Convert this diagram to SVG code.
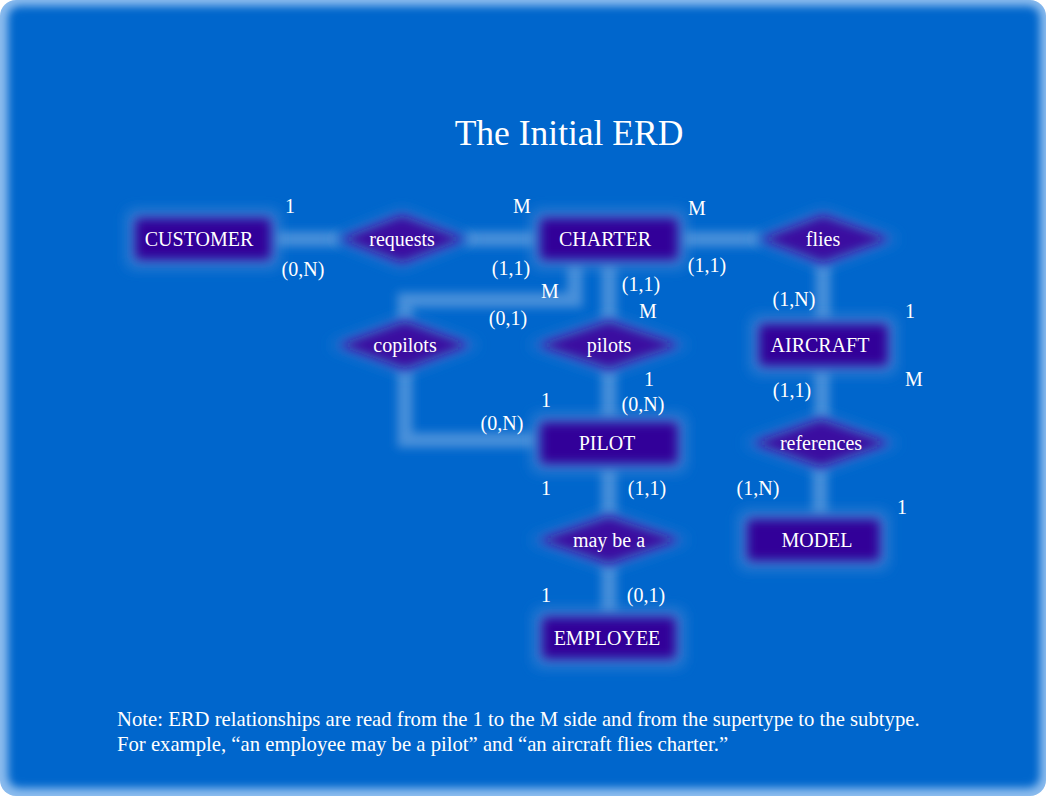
<svg xmlns="http://www.w3.org/2000/svg" width="1062" height="797" viewBox="0 0 1062 797">
<defs>
<filter id="nb" filterUnits="userSpaceOnUse" x="0" y="0" width="1062" height="797"><feGaussianBlur stdDeviation="5.5"/></filter>
<filter id="hb" filterUnits="userSpaceOnUse" x="0" y="0" width="1062" height="797"><feGaussianBlur stdDeviation="7"/></filter>
<filter id="cb" filterUnits="userSpaceOnUse" x="0" y="0" width="1062" height="797"><feGaussianBlur stdDeviation="5"/></filter>
<filter id="fb" filterUnits="userSpaceOnUse" x="-20" y="-20" width="1100" height="840"><feGaussianBlur stdDeviation="4"/></filter>
<clipPath id="fc"><rect x="0" y="0" width="1046" height="796" rx="16"/></clipPath>
</defs>
<style>
.t{font-family:"Liberation Serif","Times New Roman",serif;fill:#ffffff;font-size:20px;text-anchor:middle}
.box{fill:#330099;filter:url(#nb)}
.dia{fill:#3a0fa0;filter:url(#nb)}
.halo{fill:#3f86d6;filter:url(#hb)}
.con{fill:none;stroke:#4a90da;stroke-width:15;filter:url(#cb)}
</style>
<rect x="0" y="0" width="1062" height="797" fill="#ffffff"/>
<g clip-path="url(#fc)">
<rect x="0" y="0" width="1046" height="796" fill="#8cbcee"/>
<rect x="8" y="6" width="1032" height="782" rx="12" fill="#0066cc" filter="url(#fb)"/>
</g>
<text class="t" x="569" y="145" style="font-size:35.5px">The Initial ERD</text>
<g id="connectors">
<path class="con" d="M273 239H340"/>
<path class="con" d="M465 239H538"/>
<path class="con" d="M680 239H760"/>
<path class="con" d="M823 263V322"/>
<path class="con" d="M822 368V420"/>
<path class="con" d="M820 466V517"/>
<path class="con" d="M609 262V322"/>
<path class="con" d="M609 368V420"/>
<path class="con" d="M609 466V517"/>
<path class="con" d="M609 563V615"/>
<path class="con" d="M575 262V300H405V322"/>
<path class="con" d="M405 368V440H538"/>
</g>
<g id="customer"><rect class="halo" x="128" y="211" width="150" height="56" rx="6"/><rect class="box" x="135" y="218" width="136" height="42" rx="4"/><text class="t" x="199" y="246">CUSTOMER</text></g>
<g id="requests"><polygon class="halo" points="332,239 402,211 473,239 402,267"/><polygon class="dia" points="340,239 402,215 465,239 402,263"/><text class="t" x="402" y="246">requests</text></g>
<g id="charter"><rect class="halo" x="533" y="211" width="152" height="56" rx="6"/><rect class="box" x="540" y="218" width="138" height="42" rx="4"/><text class="t" x="605" y="246">CHARTER</text></g>
<g id="flies"><polygon class="halo" points="752,239 823,211 898,239 823,267"/><polygon class="dia" points="760,239 823,215 890,239 823,263"/><text class="t" x="823" y="246">flies</text></g>
<g id="copilots"><polygon class="halo" points="330,345 405,317 478,345 405,373"/><polygon class="dia" points="338,345 405,321 470,345 405,369"/><text class="t" x="405" y="352">copilots</text></g>
<g id="pilots"><polygon class="halo" points="529,345 609,317 688,345 609,373"/><polygon class="dia" points="537,345 609,321 680,345 609,369"/><text class="t" x="609" y="352">pilots</text></g>
<g id="aircraft"><rect class="halo" x="752" y="317" width="143" height="56" rx="6"/><rect class="box" x="759" y="324" width="129" height="42" rx="4"/><text class="t" x="820" y="352">AIRCRAFT</text></g>
<g id="pilot"><rect class="halo" x="533" y="415" width="152" height="56" rx="6"/><rect class="box" x="540" y="422" width="138" height="42" rx="4"/><text class="t" x="607" y="450">PILOT</text></g>
<g id="references"><polygon class="halo" points="744,443 821,415 898,443 821,471"/><polygon class="dia" points="752,443 821,419 890,443 821,467"/><text class="t" x="821" y="450">references</text></g>
<g id="maybea"><polygon class="halo" points="530,540 609,512 688,540 609,568"/><polygon class="dia" points="538,540 609,516 680,540 609,564"/><text class="t" x="609" y="547">may be a</text></g>
<g id="model"><rect class="halo" x="740" y="512" width="147" height="56" rx="6"/><rect class="box" x="747" y="519" width="133" height="42" rx="4"/><text class="t" x="817" y="547">MODEL</text></g>
<g id="employee"><rect class="halo" x="535" y="610" width="148" height="56" rx="6"/><rect class="box" x="542" y="617" width="134" height="42" rx="4"/><text class="t" x="607" y="645">EMPLOYEE</text></g>
<g id="labels">
<text class="t" x="290" y="213">1</text>
<text class="t" x="303" y="276">(0,N)</text>
<text class="t" x="522" y="213">M</text>
<text class="t" x="511" y="275">(1,1)</text>
<text class="t" x="697" y="215">M</text>
<text class="t" x="707" y="272">(1,1)</text>
<text class="t" x="550" y="298">M</text>
<text class="t" x="641" y="291">(1,1)</text>
<text class="t" x="508" y="325">(0,1)</text>
<text class="t" x="648" y="318">M</text>
<text class="t" x="794" y="306">(1,N)</text>
<text class="t" x="910" y="318">1</text>
<text class="t" x="792" y="397">(1,1)</text>
<text class="t" x="914" y="386">M</text>
<text class="t" x="649" y="386">1</text>
<text class="t" x="643" y="411">(0,N)</text>
<text class="t" x="546" y="407">1</text>
<text class="t" x="502" y="430">(0,N)</text>
<text class="t" x="546" y="495">1</text>
<text class="t" x="647" y="495">(1,1)</text>
<text class="t" x="758" y="495">(1,N)</text>
<text class="t" x="902" y="514">1</text>
<text class="t" x="546" y="602">1</text>
<text class="t" x="646" y="602">(0,1)</text>
</g>
<g id="note">
<text class="t" x="117" y="726" style="text-anchor:start;font-size:20.7px">Note: ERD relationships are read from the 1 to the M side and from the supertype to the subtype.</text>
<text class="t" x="117" y="751" style="text-anchor:start;font-size:20.7px">For example, “an employee may be a pilot” and “an aircraft flies charter.”</text>
</g>
</svg>
